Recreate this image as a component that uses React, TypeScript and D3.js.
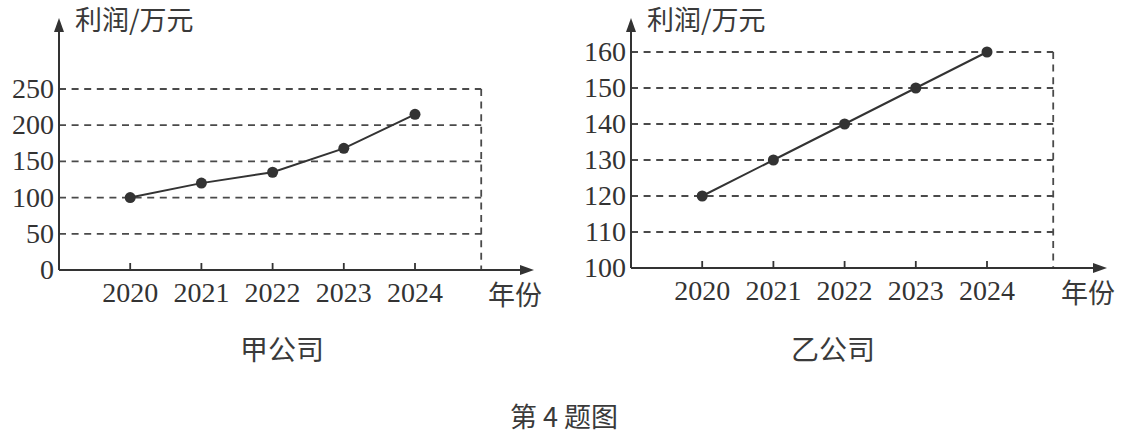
import * as d3 from "d3";

// ── Data ─────────────────────────────────────────────────────
const years = ["2020", "2021", "2022", "2023", "2024"];
const jiaProfit = [100, 120, 135, 168, 215]; // 甲公司
const yiProfit = [120, 130, 140, 150, 160]; // 乙公司
const jiaTicks = [0, 50, 100, 150, 200, 250];
const yiTicks = [100, 110, 120, 130, 140, 150, 160];

const W = 1125;
const H = 434;
const INK = "#333";
const SERIF = "'Liberation Serif', 'DejaVu Serif', serif";
const CJK = "'Noto Sans CJK SC', sans-serif";

type PanelProps = {
  values: number[];
  ticks: number[];
  left: number; // y axis x
  bottom: number; // x axis y
  top: number; // pixel of the highest tick
  arrowX: number;
  caption: string;
  captionX: number;
};

function Panel({ values, ticks, left, bottom, top, arrowX, caption, captionX }: PanelProps) {
  const step = 71.2;
  // index -1 sits on the y axis, the dashed frame closes just before index 5
  const x = d3.scaleLinear().domain([-1, 5]).range([left, left + step * 6]);
  const y = d3.scaleLinear().domain(d3.extent(ticks) as [number, number]).range([bottom, top]);
  const frameX = x(4.93);
  const line = d3
    .line<number>()
    .x((_, i) => x(i))
    .y((v) => y(v));
  const maxTick = ticks[ticks.length - 1];

  return (
    <g>
      {/* dashed grid */}
      {ticks.slice(1).map((t) => (
        <line
          key={t}
          x1={left}
          x2={frameX}
          y1={y(t)}
          y2={y(t)}
          stroke="#4a4a4a"
          strokeWidth={1.8}
          strokeDasharray="7,5.6"
        />
      ))}
      <line
        x1={frameX}
        x2={frameX}
        y1={y(maxTick)}
        y2={bottom}
        stroke="#4a4a4a"
        strokeWidth={1.8}
        strokeDasharray="7,5.6"
      />

      {/* axes */}
      <line x1={left} x2={left} y1={bottom} y2={26} stroke={INK} strokeWidth={2} />
      <path d={`M${left},18 L${left - 5},32 L${left + 5},32 Z`} fill={INK} />
      <line x1={left} x2={arrowX - 8} y1={bottom} y2={bottom} stroke={INK} strokeWidth={2} />
      <path d={`M${arrowX},${bottom} L${arrowX - 14},${bottom - 5} L${arrowX - 14},${bottom + 5} Z`} fill={INK} />

      {/* y tick labels */}
      {ticks.map((t) => (
        <text
          key={t}
          x={left - 5}
          y={y(t) + 9}
          textAnchor="end"
          fontFamily={SERIF}
          fontSize={28}
          fill={INK}
        >
          {t}
        </text>
      ))}

      {/* x ticks and labels */}
      {years.map((yr, i) => (
        <g key={yr}>
          <line x1={x(i)} x2={x(i)} y1={bottom} y2={bottom - 7} stroke={INK} strokeWidth={1.8} />
          <text x={x(i)} y={bottom + 32} textAnchor="middle" fontFamily={SERIF} fontSize={28} fill={INK}>
            {yr}
          </text>
        </g>
      ))}

      {/* series */}
      <path d={line(values) ?? ""} fill="none" stroke={INK} strokeWidth={2} />
      {values.map((v, i) => (
        <circle key={i} cx={x(i)} cy={y(v)} r={5.5} fill={INK} />
      ))}

      {/* titles */}
      <text x={left + 16} y={30} fontFamily={CJK} fontSize={27} fill="#3a3a3a">
        利润/万元
      </text>
      <text x={arrowX - 46} y={bottom + 35} fontFamily={CJK} fontSize={27} fill="#3a3a3a">
        年份
      </text>
      <text x={captionX} y={360} textAnchor="middle" fontFamily={CJK} fontSize={28} fill="#3a3a3a">
        {caption}
      </text>
    </g>
  );
}

export default function App() {
  return (
    <svg
      width={W}
      height={H}
      viewBox={`0 0 ${W} ${H}`}
      style={{ position: "absolute", left: 0, top: 0, background: "white" }}
    >
      <Panel values={jiaProfit} ticks={jiaTicks} left={59} bottom={270} top={89} arrowX={534} caption="甲公司" captionX={282} />
      <Panel values={yiProfit} ticks={yiTicks} left={631} bottom={268} top={52} arrowX={1107} caption="乙公司" captionX={833} />
      <text x={564} y={427} textAnchor="middle" fontFamily={CJK} fontSize={27} fill="#3a3a3a">
        第 4 题图
      </text>
    </svg>
  );
}
